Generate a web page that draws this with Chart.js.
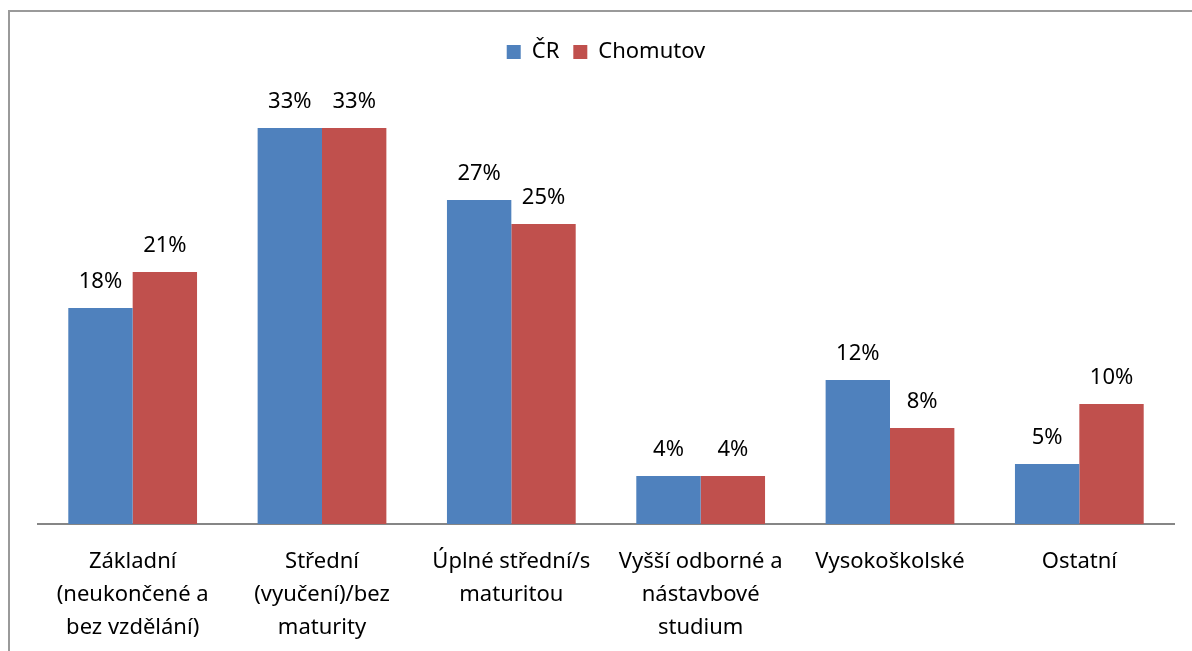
<!DOCTYPE html>
<html>
<head>
<meta charset="utf-8">
<script src="https://cdn.jsdelivr.net/npm/chart.js@4"></script>
<style>
    body { margin: 0; background: #fff; }
    #wrap { position: relative; width: 1192px; height: 651px; overflow: hidden; }
    #frame {
        position: absolute; left: 8px; top: 10px; right: -4px; bottom: -4px;
        border-top: 2px solid #9a9a9a; border-left: 2px solid #9a9a9a;
    }
    canvas { position: absolute; left: 0; top: 0; }
</style>
</head>
<body>
<div id="wrap">
    <div id="frame"></div>
    <canvas id="chart" width="1192" height="651"></canvas>
</div>
<script>
// kategorie vzdělání
const categories = [
    ["Základní", "(neukončené a", "bez vzdělání)"],
    ["Střední", "(vyučení)/bez", "maturity"],
    ["Úplné střední/s", "maturitou"],
    ["Vyšší odborné a", "nástavbové", "studium"],
    ["Vysokoškolské"],
    ["Ostatní"]
];

// hodnoty v %
const crValues = [18, 33, 27, 4, 12, 5];
const chomutovValues = [21, 33, 25, 4, 8, 10];

const seriesNames = ["ČR", "Chomutov"];
const yMax = 35;

const FONT = "'Noto Sans', sans-serif";

// popisky nad sloupci
const valueLabels = {
    id: "valueLabels",
    afterDatasetsDraw(chart) {
        const c = chart.ctx;
        c.save();
        c.font = "22px " + FONT;
        c.fillStyle = "#000";
        c.textAlign = "center";
        c.textBaseline = "middle";
        chart.data.datasets.forEach((ds, i) => {
            chart.getDatasetMeta(i).data.forEach((bar, j) => {
                c.fillText(ds.data[j] + "%", bar.x, bar.y - 26);
            });
        });
        c.restore();
    }
};

// mezera pod legendou
const legendGap = {
    id: "legendGap",
    beforeInit(chart) {
        const fit = chart.legend.fit;
        chart.legend.fit = function () {
            fit.bind(chart.legend)();
            this.height += 31;
        };
    }
};

new Chart(document.getElementById("chart"), {
    type: "bar",
    data: {
        labels: categories,
        datasets: [
            { label: seriesNames[0], data: crValues, backgroundColor: "#4F81BD" },
            { label: seriesNames[1], data: chomutovValues, backgroundColor: "#C0504D" }
        ]
    },
    options: {
        responsive: false,
        animation: false,
        layout: { padding: { left: 38, right: 18, top: 27, bottom: 0 } },
        datasets: { bar: { categoryPercentage: 0.68, barPercentage: 1 } },
        plugins: {
            legend: {
                position: "top",
                labels: {
                    boxWidth: 14,
                    boxHeight: 14,
                    padding: 14,
                    color: "#000",
                    font: { family: FONT, size: 22 }
                }
            },
            tooltip: { enabled: false }
        },
        scales: {
            x: {
                grid: { display: false },
                border: { color: "#868686", width: 2 },
                ticks: {
                    color: "#000",
                    maxRotation: 0,
                    autoSkip: false,
                    padding: 13,
                    font: { family: FONT, size: 22, lineHeight: 1.5 }
                },
                afterFit(scale) { scale.height = 651 - 524; }
            },
            y: {
                display: false,
                min: 0,
                max: yMax
            }
        }
    },
    plugins: [valueLabels, legendGap]
});
</script>
</body>
</html>
